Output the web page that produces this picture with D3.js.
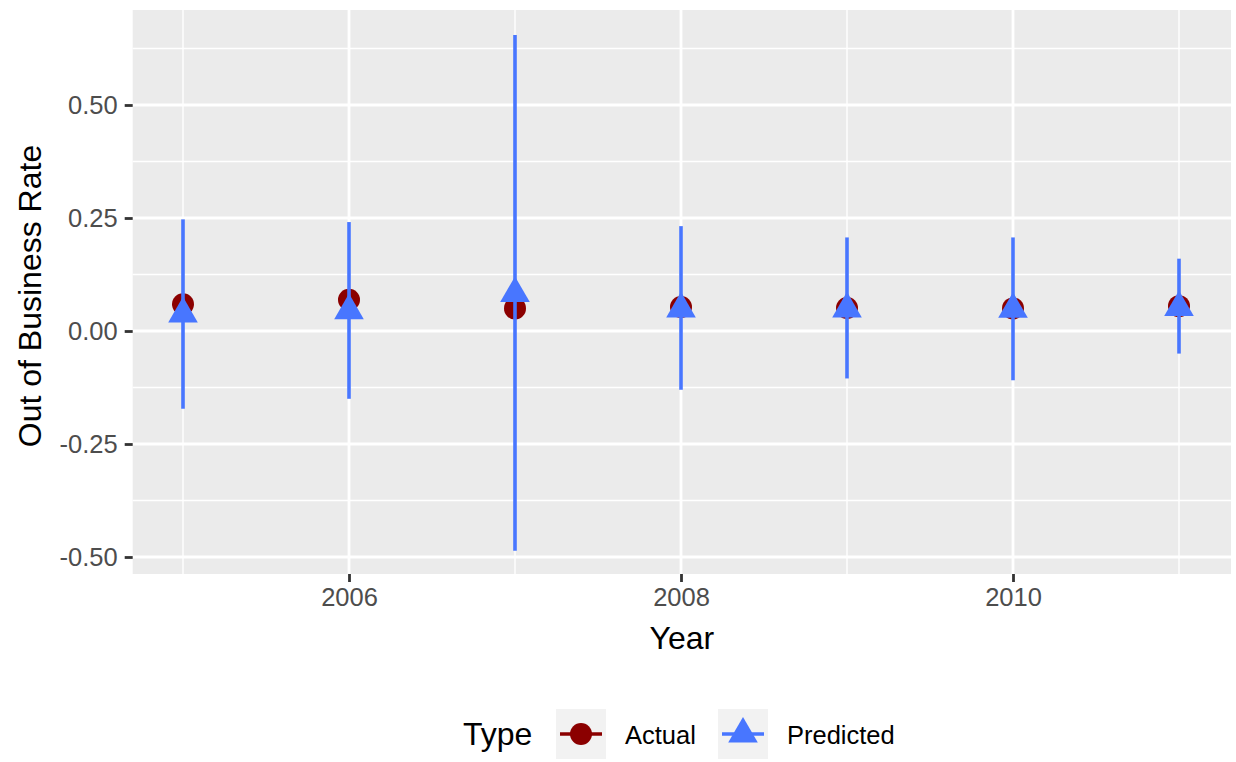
<!DOCTYPE html>
<html>
<head>
<meta charset="utf-8">
<script src="https://cdn.jsdelivr.net/npm/d3@7"></script>
<style>
  body { margin: 0; background: #fff; }
  text { font-family: "Liberation Sans", Arial, Helvetica, sans-serif; }
</style>
</head>
<body>
<div id="chart"></div>
<script>
// values
const years     = [2005, 2006, 2007, 2008, 2009, 2010, 2011];
const actual    = [0.059, 0.069, 0.050, 0.053, 0.051, 0.050, 0.055];
const predicted = [0.038, 0.045, 0.083, 0.049, 0.049, 0.048, 0.052];
const lower     = [-0.172, -0.150, -0.486, -0.130, -0.105, -0.109, -0.050];
const upper     = [0.247, 0.241, 0.655, 0.232, 0.207, 0.207, 0.160];
const xTicks    = [2006, 2008, 2010];
const xMinor    = [2005, 2007, 2009, 2011];
const yTicks    = [-0.5, -0.25, 0, 0.25, 0.5];
const yMinor    = [-0.375, -0.125, 0.125, 0.375, 0.625];
const types     = ["Actual", "Predicted"];

const W = 1236, H = 762;
const panel = {left: 132.7, right: 1231, top: 10, bottom: 574};

const red = "#8B0000", blue = "#4876FF";

let svg = d3.select("#chart").append("svg")
  .attr("width", W).attr("height", H);

let x = d3.scaleLinear().domain([2005, 2011]).range([183, 1179]);
let y = d3.scaleLinear().domain([-0.5, 0.5]).range([557, 105]);

// panel background
svg.append("rect")
  .attr("x", panel.left).attr("y", panel.top)
  .attr("width", panel.right - panel.left)
  .attr("height", panel.bottom - panel.top)
  .attr("fill", "#EBEBEB");

let grid = svg.append("g");
// minor grid
grid.selectAll(".ymin").data(yMinor).enter().append("line")
  .attr("x1", panel.left).attr("x2", panel.right)
  .attr("y1", d => y(d)).attr("y2", d => y(d))
  .attr("stroke", "#fff").attr("stroke-width", 1.4);
grid.selectAll(".xmin").data(xMinor).enter().append("line")
  .attr("y1", panel.top).attr("y2", panel.bottom)
  .attr("x1", d => x(d)).attr("x2", d => x(d))
  .attr("stroke", "#fff").attr("stroke-width", 1.4);
// major grid
grid.selectAll(".ymaj").data(yTicks).enter().append("line")
  .attr("x1", panel.left).attr("x2", panel.right)
  .attr("y1", d => y(d)).attr("y2", d => y(d))
  .attr("stroke", "#fff").attr("stroke-width", 2.8);
grid.selectAll(".xmaj").data(xTicks).enter().append("line")
  .attr("y1", panel.top).attr("y2", panel.bottom)
  .attr("x1", d => x(d)).attr("x2", d => x(d))
  .attr("stroke", "#fff").attr("stroke-width", 2.8);

// axes
let xAxis = d3.axisBottom(x).tickValues(xTicks).tickFormat(d3.format("d"))
  .tickSizeInner(8).tickSizeOuter(0).tickPadding(6);
let xg = svg.append("g").attr("transform", `translate(0, ${panel.bottom})`).call(xAxis);
xg.select(".domain").remove();
xg.selectAll("line").attr("stroke", "#333333").attr("stroke-width", 2.8);
xg.selectAll("text").attr("fill", "#4D4D4D").attr("font-size", "25.5px")
  .attr("font-family", "Liberation Sans, Arial, sans-serif");

// ggplot prints a plain hyphen for negatives
let fmt = d3.format(".2f");
let yAxis = d3.axisLeft(y).tickValues(yTicks).tickFormat(d => fmt(d).replace("\u2212", "-"))
  .tickSizeInner(8).tickSizeOuter(0).tickPadding(7);
let yg = svg.append("g").attr("transform", `translate(${panel.left}, 0)`).call(yAxis);
yg.select(".domain").remove();
yg.selectAll("line").attr("stroke", "#333333").attr("stroke-width", 2.8);
yg.selectAll("text").attr("fill", "#4D4D4D").attr("font-size", "25.5px")
  .attr("font-family", "Liberation Sans, Arial, sans-serif");

// axis titles
svg.append("text")
  .attr("x", (panel.left + panel.right) / 2).attr("y", 649)
  .attr("text-anchor", "middle").attr("font-size", "32px").attr("fill", "#000")
  .text("Year");
svg.append("text")
  .attr("transform", `translate(41, ${(panel.top + panel.bottom) / 2 + 4}) rotate(-90)`)
  .attr("text-anchor", "middle").attr("font-size", "32px").attr("fill", "#000")
  .text("Out of Business Rate");

// marks
let rows = years.map((yr, i) => ({year: yr, actual: actual[i], predicted: predicted[i], lo: lower[i], hi: upper[i]}));
let tri = d3.symbol().type(d3.symbolTriangle).size(380);

svg.append("g").selectAll("circle").data(rows).enter().append("circle")
  .attr("cx", d => x(d.year)).attr("cy", d => y(d.actual))
  .attr("r", 11).attr("fill", red);

svg.append("g").selectAll("line").data(rows).enter().append("line")
  .attr("x1", d => x(d.year)).attr("x2", d => x(d.year))
  .attr("y1", d => y(d.lo)).attr("y2", d => y(d.hi))
  .attr("stroke", blue).attr("stroke-width", 3.6);

svg.append("g").selectAll("path").data(rows).enter().append("path")
  .attr("transform", d => `translate(${x(d.year)}, ${y(d.predicted)})`)
  .attr("d", tri).attr("fill", blue);

// legend
let legend = svg.append("g");
legend.append("text").attr("x", 463).attr("y", 745)
  .attr("font-size", "32px").attr("fill", "#000").text("Type");

let keyX = [556, 718], labX = [625, 787], cols = [red, blue];
types.forEach((t, i) => {
  let k = legend.append("g").attr("transform", `translate(${keyX[i]}, 709)`);
  k.append("rect").attr("width", 50).attr("height", 50).attr("fill", "#F2F2F2");
  k.append("line").attr("x1", 4).attr("x2", 46).attr("y1", 25).attr("y2", 25)
    .attr("stroke", cols[i]).attr("stroke-width", 3.6);
  if (i === 0) {
    k.append("circle").attr("cx", 25).attr("cy", 25).attr("r", 11).attr("fill", red);
  } else {
    k.append("path").attr("transform", "translate(25, 25)").attr("d", tri).attr("fill", blue);
  }
  legend.append("text").attr("x", labX[i]).attr("y", 744)
    .attr("font-size", "25.5px").attr("fill", "#000").text(t);
});
</script>
</body>
</html>
